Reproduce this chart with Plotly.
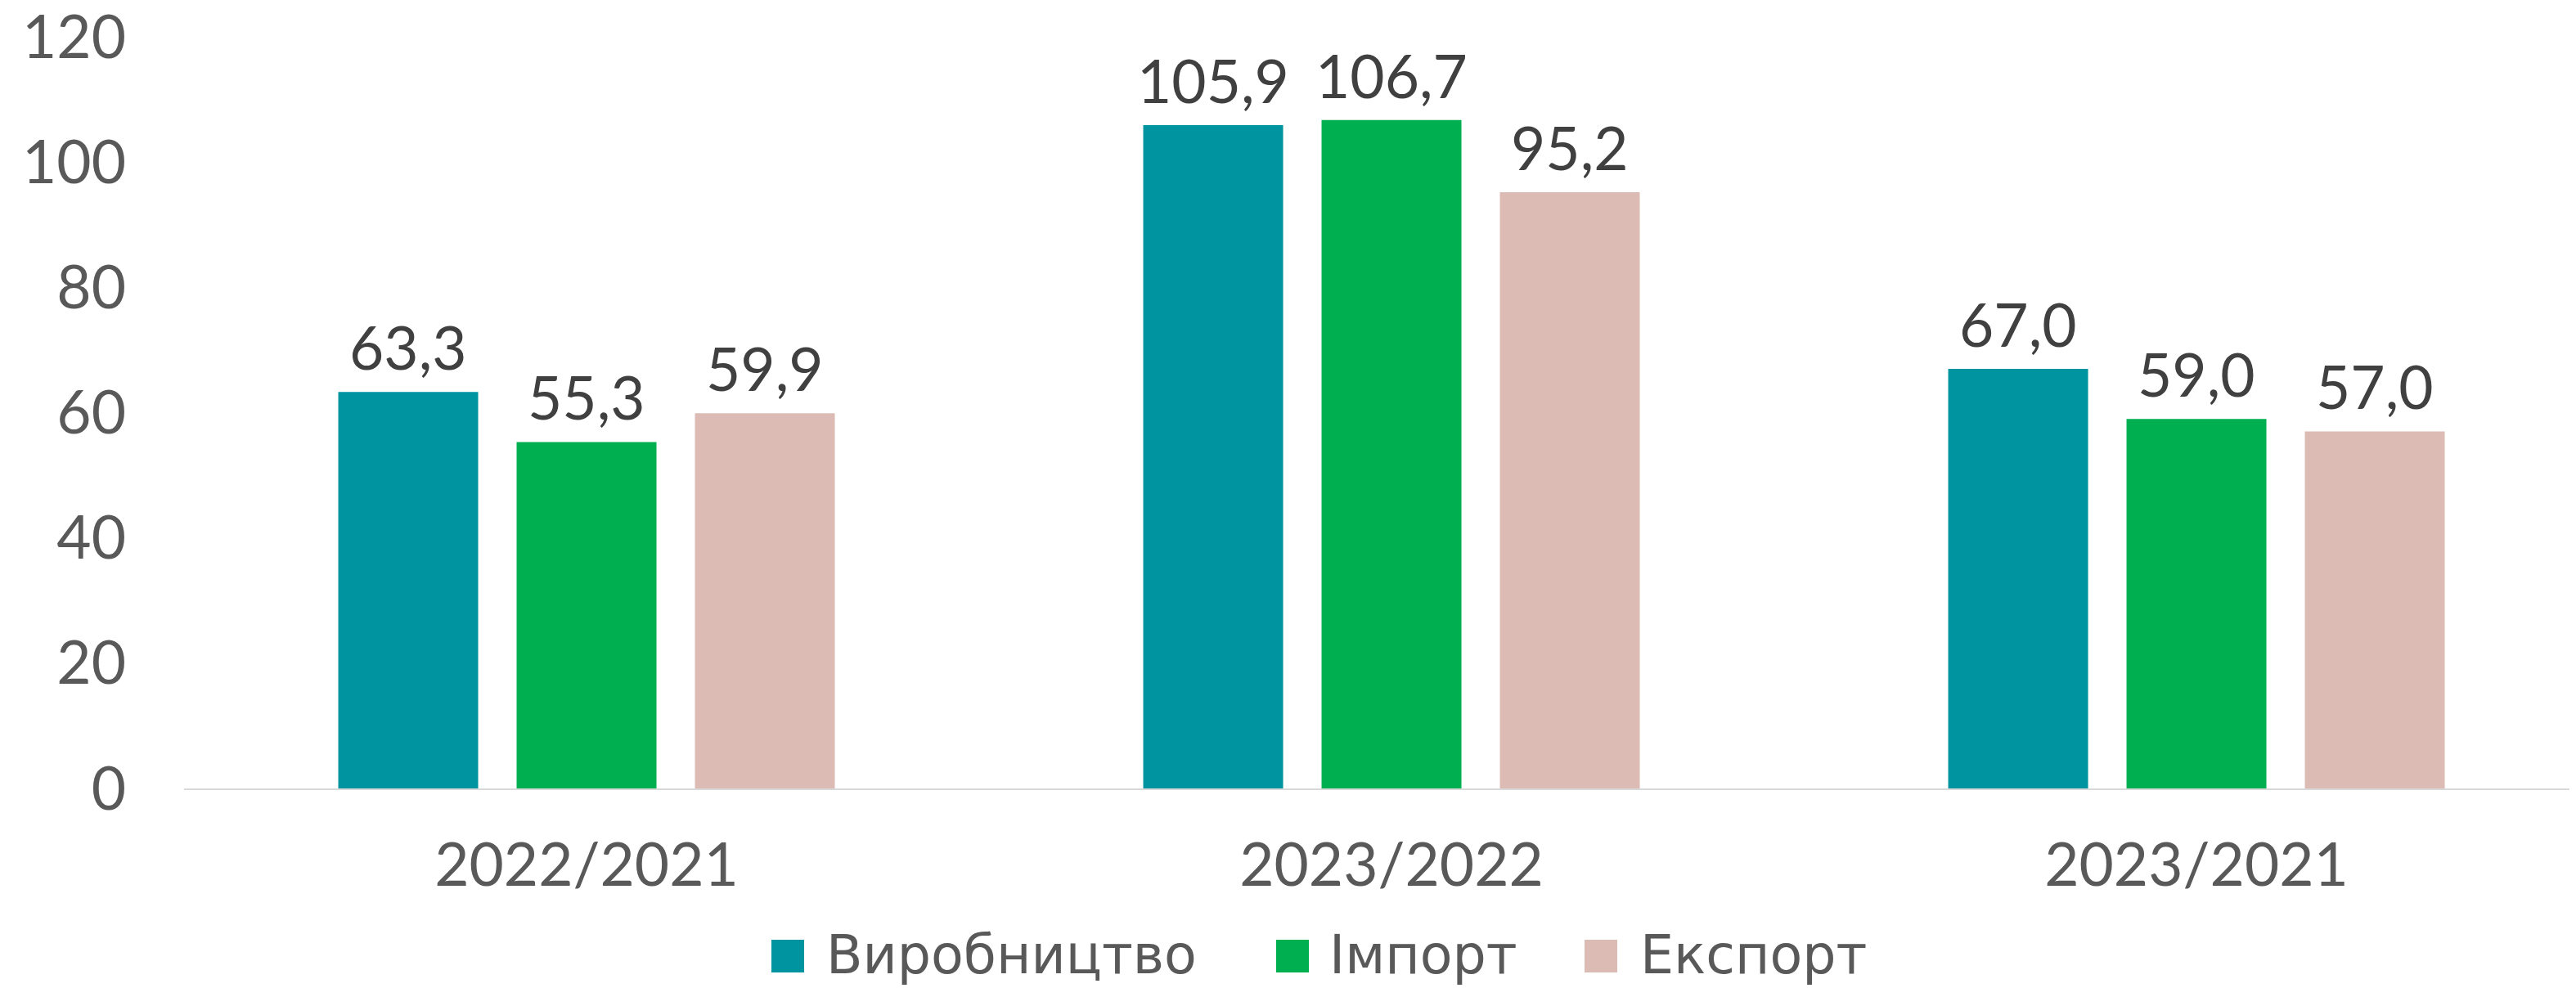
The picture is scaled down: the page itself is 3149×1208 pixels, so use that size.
import plotly.graph_objects as go

categories = ["2022/2021", "2023/2022", "2023/2021"]
series_names = ["Виробництво", "Імпорт", "Експорт"]
production = [63.3, 105.9, 67.0]
imports = [55.3, 106.7, 59.0]
exports = [59.9, 95.2, 57.0]
y_ticks = [0, 20, 40, 60, 80, 100, 120]

colors = ["#0093A0", "#00B050", "#DDBBB5"]
series_values = [production, imports, exports]

FONT = "Lato"
LEG_FONT = "DejaVu Sans"
OFF = 8  # browser default body margin
W, H = 3149 - OFF, 1208 - OFF
ML, MR, MT, MB = 225 - OFF, 0, 45 - OFF, H - (964 - OFF)
PW, PH = W - ML - MR, H - MT - MB

BARGAP = 0.3354
BARGROUPGAP = 0.2156
slot = (1 - BARGAP) / len(series_names)

fig = go.Figure()
annotations = []
for i, (name, vals, col) in enumerate(zip(series_names, series_values, colors)):
    fig.add_trace(go.Bar(
        x=categories, y=vals, name=name,
        marker=dict(color=col, line=dict(width=0)),
        showlegend=False, hoverinfo="x+y+name",
    ))
    off = (i - (len(series_names) - 1) / 2) * slot
    for ci, v in enumerate(vals):
        annotations.append(dict(
            xref="x", yref="y", x=ci + off, y=v,
            text=f"{v:.1f}".replace(".", ","),
            xanchor="center", yanchor="bottom", yshift=9, showarrow=False,
            font=dict(family=FONT, size=73, color="#404040"),
        ))

# custom legend (large square swatches); positions given in page pixels
def px_x(px):
    return (px - OFF - ML) / PW

def px_y(py):
    return (MT + PH - (py - OFF)) / PH

legend_sq = [(943, 983), (1560, 1600), (1937, 1977)]
legend_tx = [1008, 1623, 2003]
shapes = []
for (x0, x1), tx, name, col in zip(legend_sq, legend_tx, series_names, colors):
    shapes.append(dict(type="rect", xref="paper", yref="paper",
                       x0=px_x(x0), x1=px_x(x1), y0=px_y(1189), y1=px_y(1149),
                       fillcolor=col, line=dict(width=0)))
    annotations.append(dict(xref="paper", yref="paper", x=px_x(tx), y=px_y(1167),
                            xanchor="left", yanchor="middle", showarrow=False,
                            text=name, font=dict(family=LEG_FONT, size=65, color="#595959")))

fig.update_layout(
    width=W, height=H,
    margin=dict(l=ML, r=MR, t=MT, b=MB, pad=0, autoexpand=False),
    paper_bgcolor="white", plot_bgcolor="white",
    separators=", ",
    barmode="group", bargap=BARGAP, bargroupgap=BARGROUPGAP,
    font=dict(family=FONT, color="#595959"),
    shapes=shapes, annotations=annotations,
)
fig.update_xaxes(
    range=[-0.5, 2.4715], showgrid=False, zeroline=False, automargin=False,
    showline=True, linecolor="#D9D9D9", linewidth=2,
    ticks="", tickfont=dict(family=FONT, size=73, color="#595959"),
    ticklabelstandoff=29, ticklabeloverflow="allow",
)
fig.update_yaxes(
    range=[0, 120], tickvals=y_ticks, showgrid=False, zeroline=False,
    showline=False, ticks="", automargin=False,
    tickfont=dict(family=FONT, size=73, color="#595959"),
    ticklabelstandoff=70, ticklabeloverflow="allow",
)

fig.write_html("out.html")
